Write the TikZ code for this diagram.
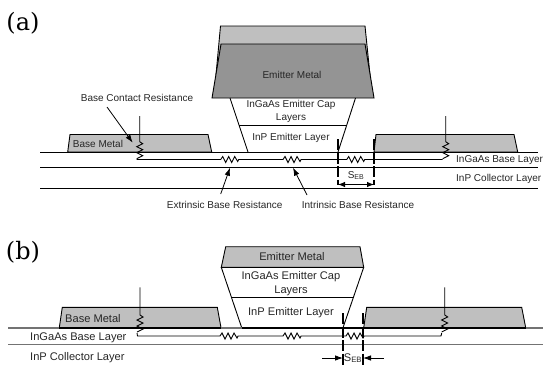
\documentclass[tikz,border=0pt]{standalone}
\usepackage{fontspec}
\setmainfont{Liberation Sans}
\newfontfamily\panelfont{DejaVu Serif}
\usetikzlibrary{arrows.meta, positioning, calc}
\definecolor{MetalLight}{gray}{0.75}
\definecolor{MetalDark}{gray}{0.58}
\definecolor{LayerGray}{gray}{0.45}
\newcommand{\hzig}{-- ++(2,-3) -- ++(3,6) -- ++(3,-6) -- ++(3,6) -- ++(3,-6) -- ++(3,5) -- ++(1,-2)}
\newcommand{\vzig}{-- ++(3,2) -- ++(-6,3) -- ++(6,3) -- ++(-6,3) -- ++(6,3) -- ++(-6,3)}
\tikzset{
    metal/.style={draw=black, line width=0.9pt, fill=MetalLight},
    metaldark/.style={draw=black, line width=0.9pt, fill=MetalDark},
    layer/.style={draw=black, line width=0.9pt},
    wire/.style={draw=black, line width=0.9pt},
    pointer/.style={-{Latex[length=8pt,width=5.5pt]}, line width=0.8pt},
    gapline/.style={line width=1.5pt, dash pattern=on 11pt off 2.5pt},
    gaparrow/.style={{Latex[length=7pt,width=5.5pt]}-{Latex[length=7pt,width=5.5pt]}, line width=0.9pt},
    lbl/.style={inner sep=0pt, font=\fontsize{10}{12.5}\selectfont, text=black!85},
    lblb/.style={inner sep=0pt, font=\fontsize{11.1}{14}\selectfont, text=black!85},
    panel/.style={inner sep=0pt, font=\panelfont\fontsize{24}{28}\selectfont}
}
\begin{document}
\begin{tikzpicture}[x=1pt, y=-1pt]
\useasboundingbox (0,0) rectangle (543,365);

\node[panel] (panela) at (23,23) {(a)};
\node[panel] (panelb) at (23,252) {(b)};

% (a)
\draw[metal] (220.5,26) -- (365,26) -- (370,75) -- (216,75) -- cycle;
\draw[metaldark] (221,44) -- (365,44) -- (374,98) -- (212,98) -- cycle;
\draw[layer] (230,98) -- (248,152);
\draw[layer] (355.5,98) -- (338,152);
\draw[layer] (239,125.7) -- (346,125.7);
\draw[metal] (67.7,152) -- (70,134.5) -- (208,134.5) -- (211.7,152) -- cycle;
\draw[metal] (374,152) -- (376,134.5) -- (514,134.5) -- (517.7,152) -- cycle;
\draw[layer] (40,152) -- (538,152);
\draw[layer] (40,167) -- (538,167);
\draw[layer] (40,188.7) -- (538,188.7);

\node[lbl] (emittera) at (292,75) {Emitter Metal};
\node[lbl, align=center] (capa) at (291,111.5) {InGaAs Emitter Cap\\Layers};
\node[lbl] (inpa) at (291,138) {InP Emitter Layer};
\node[lbl] (basea) at (98,144) {Base Metal};
\node[lbl, anchor=west] (baselayera) at (456,160.5) {InGaAs Base Layer};
\node[lbl, anchor=west] (colla) at (456,179) {InP Collector Layer};
\node[lbl] (contacta) at (137,97.5) {Base Contact Resistance};
\node[lbl, anchor=west] (extra) at (166.7,204.5) {Extrinsic Base Resistance};
\node[lbl, anchor=west] (intra) at (301.7,204.5) {Intrinsic Base Resistance};

\coordinate (contactaL) at (139.7,141.7);
\coordinate (contactaR) at (445.7,141.7);
\coordinate (wireaL) at (136.7,159.5);
\coordinate (wireaR) at (442.7,159.5);
\draw[wire] (139.7,116) -- (contactaL) \vzig;
\draw[wire] (445.7,116) -- (contactaR) \vzig;
\draw[wire] (wireaL) -- (220.7,159.5) \hzig -- (283,159.5) \hzig -- (346.7,159.5) \hzig -- (wireaR);

\draw[pointer] (107,107) -- (132.7,142.7);
\draw[pointer] (220.7,194) -- (230,167.7);
\draw[pointer] (307,195) -- (293,167.7);

\coordinate (gapaL) at (338,139);
\coordinate (gapaR) at (374,139);
\draw[gapline] (gapaL) -- ++(0,46);
\draw[gapline] (gapaR) -- ++(0,46);
\draw[gaparrow] (338,184.5) -- (374,184.5);
\node[lbl] (seba) at (356,175.5) {S\textsubscript{EB}};

% (b)
\draw[metal] (225.7,246.7) -- (360,246.7) -- (363.7,267.3) -- (221.3,267.3) -- cycle;
\draw[layer] (221.3,267.3) -- (241.7,327.7);
\draw[layer] (363.7,267.3) -- (343,327.7);
\draw[layer] (231.5,297.3) -- (353.5,297.3);
\draw[metal] (59.3,327.7) -- (62.3,307.3) -- (217.3,307.3) -- (221,327.7) -- cycle;
\draw[metal] (363.7,327.7) -- (366.7,307.3) -- (521.7,307.3) -- (525.7,327.7) -- cycle;
\draw[LayerGray, line width=1.3pt] (8.3,328) -- (542.7,328);
\draw[LayerGray, line width=0.9pt] (8.3,344) -- (542.7,344);
\draw[black, line width=1.4pt] (59.3,328) -- (221,328);
\draw[black, line width=1.4pt] (241.7,328) -- (525.7,328);

\node[lblb] (emitterb) at (292,256.5) {Emitter Metal};
\node[lblb, align=center] (capb) at (291,283.5) {InGaAs Emitter Cap\\Layers};
\node[lblb] (inpb) at (291,313) {InP Emitter Layer};
\node[lblb, anchor=west] (baseb) at (65,318.5) {Base Metal};
\node[lblb, anchor=west] (baselayerb) at (30,337.5) {InGaAs Base Layer};
\node[lblb, anchor=west] (collb) at (30,358) {InP Collector Layer};

\coordinate (contactbL) at (140,315);
\coordinate (contactbR) at (444.7,315);
\coordinate (wirebL) at (137,333);
\coordinate (wirebR) at (441.7,333);
\draw[wire] (140,287.3) -- (contactbL) \vzig;
\draw[wire] (444.7,287.3) -- (contactbR) \vzig;
\draw[wire] (wirebL) -- (137.5,336) -- (220,336) \hzig -- (283,336) \hzig -- (346,336) \hzig -- (441,336) -- (wirebR);

\coordinate (gapbL) at (343,313);
\coordinate (gapbR) at (363,313);
\draw[gapline] (gapbL) -- ++(0,52);
\draw[gapline] (gapbR) -- ++(0,52);
\coordinate (sebL) at (322,358);
\coordinate (sebR) at (383.7,358);
\draw[pointer] (sebL) -- (343,358);
\draw[pointer] (sebR) -- (363,358);
\node[lblb] (sebb) at (353,358) {S\textsubscript{EB}};

\end{tikzpicture}
\end{document}
